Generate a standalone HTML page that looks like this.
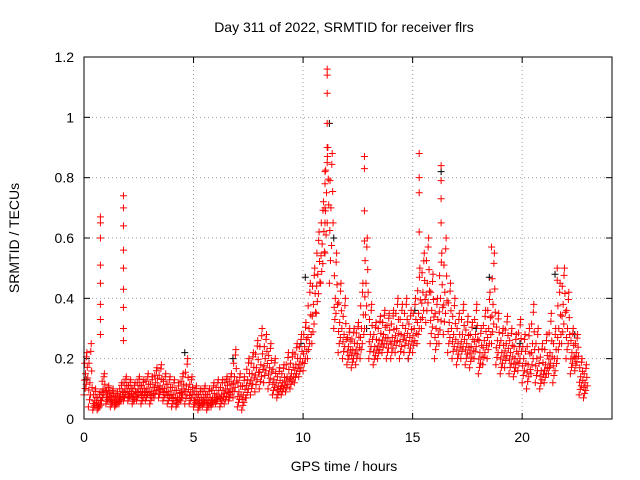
<!DOCTYPE html>
<html><head><meta charset="utf-8"><style>
body{margin:0;background:#fff;}
svg{display:block;font-family:"Liberation Sans",sans-serif;}
</style></head><body>
<svg id="chart" width="640" height="480">
<rect x="0" y="0" width="640" height="480" fill="#fff"/>
<text x="344" y="32" text-anchor="middle" font-size="14">Day 311 of 2022, SRMTID for receiver flrs</text>
<text x="344" y="471" text-anchor="middle" font-size="14">GPS time / hours</text>
<text transform="translate(19,238) rotate(-90)" text-anchor="middle" font-size="14">SRMTID / TECUs</text>
<g id="grid"></g><g id="ticks"></g><g id="marks"></g>
<rect x="84" y="57" width="528" height="362" fill="none" stroke="#000" stroke-width="1"/>
</svg>
<script>
const hours=[0,0.2,0.4,0.6,0.8,1,1.2,1.4,1.6,1.8,2,2.2,2.4,2.6,2.8,3,3.2,3.4,3.6,3.8,4,4.2,4.4,4.6,4.8,5,5.2,5.4,5.6,5.8,6,6.2,6.4,6.6,6.8,7,7.2,7.4,7.6,7.8,8,8.2,8.4,8.6,8.8,9,9.2,9.4,9.6,9.8,10,10.2,10.4,10.6,10.8,11,11.2,11.4,11.6,11.8,12,12.2,12.4,12.6,12.8,13,13.2,13.4,13.6,13.8,14,14.2,14.4,14.6,14.8,15,15.2,15.4,15.6,15.8,16,16.2,16.4,16.6,16.8,17,17.2,17.4,17.6,17.8,18,18.2,18.4,18.6,18.8,19,19.2,19.4,19.6,19.8,20,20.2,20.4,20.6,20.8,21,21.2,21.4,21.6,21.8,22,22.2,22.4,22.6,22.8];
const tecLow=[.08,.04,.03,.03,.06,.05,.04,.04,.05,.06,.06,.05,.06,.05,.06,.05,.07,.07,.06,.05,.04,.04,.06,.05,.05,.04,.03,.04,.03,.04,.05,.04,.05,.06,.07,.04,.03,.07,.08,.09,.1,.12,.1,.08,.07,.08,.09,.1,.12,.14,.16,.2,.25,.35,.45,.55,.45,.3,.22,.2,.18,.17,.18,.2,.3,.2,.18,.2,.22,.2,.2,.22,.2,.22,.2,.22,.25,.3,.32,.25,.2,.25,.28,.22,.2,.18,.2,.18,.17,.2,.15,.18,.2,.25,.18,.15,.17,.15,.14,.16,.12,.1,.15,.12,.1,.12,.15,.12,.2,.25,.2,.15,.16,.08,.07];
const tecMid=[.15,.12,.06,.05,.1,.08,.07,.06,.08,.1,.09,.08,.1,.09,.1,.09,.12,.11,.1,.09,.08,.07,.1,.11,.09,.07,.06,.07,.06,.07,.08,.08,.1,.1,.14,.09,.08,.13,.15,.17,.18,.2,.17,.13,.11,.12,.14,.15,.18,.2,.24,.3,.38,.48,.58,.75,.7,.4,.32,.28,.24,.23,.25,.3,.45,.28,.24,.26,.28,.27,.27,.3,.28,.3,.27,.3,.35,.42,.45,.36,.3,.4,.42,.32,.28,.25,.28,.25,.24,.28,.22,.26,.3,.38,.26,.22,.25,.22,.2,.24,.2,.18,.25,.2,.16,.18,.22,.2,.3,.38,.3,.22,.22,.14,.12];
const tecHigh=[.22,.25,.1,.09,.15,.11,.1,.09,.12,.14,.13,.12,.14,.13,.15,.14,.17,.18,.15,.14,.13,.12,.15,.2,.14,.11,.1,.11,.1,.12,.13,.13,.14,.15,.23,.15,.14,.2,.22,.26,.3,.28,.25,.2,.17,.18,.22,.22,.25,.28,.32,.45,.5,.62,.72,.9,.88,.55,.45,.4,.3,.3,.32,.45,.6,.38,.32,.34,.36,.35,.36,.4,.38,.4,.36,.4,.5,.55,.6,.48,.4,.55,.6,.45,.4,.35,.38,.34,.32,.38,.3,.36,.42,.55,.35,.3,.34,.3,.28,.33,.28,.3,.38,.3,.25,.28,.35,.3,.45,.5,.42,.3,.28,.2,.18];
const spikeHours=[0.75,0.75,0.75,0.75,0.75,0.75,0.75,0.75,1.8,1.8,1.8,1.8,1.8,1.8,1.8,1.8,1.8,11.1,11.1,11.1,11.1,11.1,11.1,11,11,11,11,12.8,12.8,12.8,12.8,15.3,15.3,15.3,15.3,16.3,16.3,16.3,16.3,18.6,21.6,21.6];
const spikeValues=[.67,.65,.6,.51,.45,.38,.33,.28,.74,.7,.64,.56,.5,.43,.37,.3,.26,1.16,1.14,1.08,.98,.9,.85,.82,.78,.7,.65,.87,.83,.69,.59,.88,.8,.75,.62,.84,.79,.73,.65,.57,.5,.46];
const blackHours=[0.1,4.6,6.8,9.9,10.1,11.2,11.4,12.9,14.8,15.1,16.3,17.9,18.5,19.9,21.5,22.4];
const blackValues=[.13,.22,.2,.25,.47,.98,.6,.3,.2,.36,.82,.3,.47,.25,.48,.28];
const xTicks=[0,5,10,15,20];
const yTicks=[0,0.2,0.4,0.6,0.8,1,1.2];
const yTickLabels=["0","0.2","0.4","0.6","0.8","1","1.2"];

const NS="http://www.w3.org/2000/svg";
const X0=84,X1=612,Y0=419,Y1=57;
function xs(h){return X0+h*(X1-X0)/24.1;}
function ys(v){return Y0-v*(Y0-Y1)/1.2;}
const grid=document.getElementById('grid'),ticks=document.getElementById('ticks'),marks=document.getElementById('marks');
function mk(tag,attrs,parent){const e=document.createElementNS(NS,tag);for(const k in attrs)e.setAttribute(k,attrs[k]);parent.appendChild(e);return e;}
xTicks.forEach(t=>{
  const x=xs(t);
  if(t>0){const g=mk('line',{x1:x,x2:x,y1:Y0,y2:Y1,stroke:'#a0a0a0','stroke-dasharray':'1,3'},grid);
  
  }
  mk('line',{x1:x,x2:x,y1:Y0,y2:Y0-6,stroke:'#000'},ticks);
  mk('line',{x1:x,x2:x,y1:Y1,y2:Y1+6,stroke:'#000'},ticks);
  const l=mk('text',{x:x,y:Y0+23,'text-anchor':'middle','font-size':'14'},ticks);
  l.textContent=String(t);
  
  
});
yTicks.forEach((t,i)=>{
  const y=ys(t);
  if(t>0&&t<1.2){const g=mk('line',{x1:X0,x2:X1,y1:y,y2:y,stroke:'#a0a0a0','stroke-dasharray':'1,3'},grid);
  
  }
  mk('line',{x1:X0,x2:X0+6,y1:y,y2:y,stroke:'#000'},ticks);
  mk('line',{x1:X1,x2:X1-6,y1:y,y2:y,stroke:'#000'},ticks);
  const l=mk('text',{x:X0-10,y:y+5,'text-anchor':'end','font-size':'14'},ticks);
  l.textContent=yTickLabels[i];
  
  
});
function plus(h,v,color,name){
  const x=xs(h),y=ys(v);
  const p=mk('path',{d:`M${x-3.5},${y}H${x+3.5}M${x},${y-3.5}V${y+3.5}`,stroke:color,'stroke-width':'1',fill:'none'},marks);
  
  
}
blackHours.forEach((h,i)=>plus(h,blackValues[i],'#000','black-point'));
const mixes=[[0,0.0],[0.07,0.5],[0.13,1.0],[0.1,0.25],[0.03,0.75],[0.17,0.4],[0.05,0.15],[0.15,0.65],[0.11,0.9],[0.02,0.35]];
hours.forEach((h,i)=>{
  mixes.forEach(m=>{
    const f=m[1];
    const v=f<=0.5?tecLow[i]+(tecMid[i]-tecLow[i])*f*2:tecMid[i]+(tecHigh[i]-tecMid[i])*(f-0.5)*2;
    plus(h+m[0],v,'#f00','red-point');
  });
});
spikeHours.forEach((h,i)=>plus(h,spikeValues[i],'#f00','red-spike-point'));
</script>
</body></html>
